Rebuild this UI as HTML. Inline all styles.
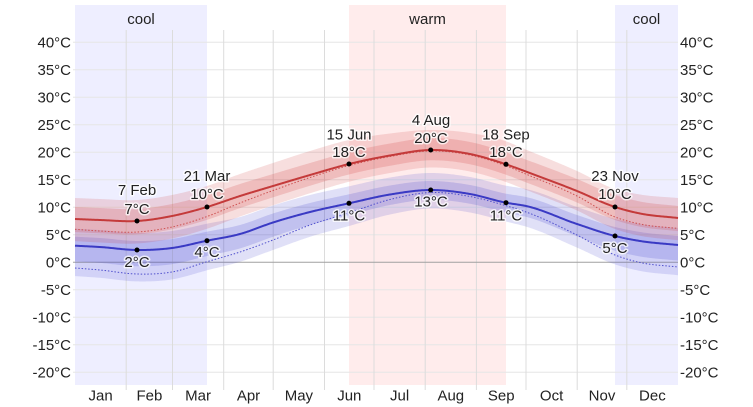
<!DOCTYPE html>
<html><head><meta charset="utf-8">
<style>
html,body{margin:0;padding:0;background:#fff;}
svg{display:block;font-family:"Liberation Sans",Arial,sans-serif;}
</style></head><body>
<svg id="c" xmlns="http://www.w3.org/2000/svg" width="753" height="407" viewBox="0 0 753 407">
<rect x="0" y="0" width="753" height="407" fill="#fff"/>
<rect x="75" y="5" width="132" height="380" fill="#eeeeff"/>
<rect x="349" y="5" width="157" height="380" fill="#ffecec"/>
<rect x="615" y="5" width="63" height="380" fill="#eeeeff"/>
<g stroke="#e6e6e6" stroke-width="1">
<line x1="73" x2="678" y1="42.3" y2="42.3"/>
<line x1="73" x2="678" y1="69.8" y2="69.8"/>
<line x1="73" x2="678" y1="97.3" y2="97.3"/>
<line x1="73" x2="678" y1="124.8" y2="124.8"/>
<line x1="73" x2="678" y1="152.3" y2="152.3"/>
<line x1="73" x2="678" y1="179.8" y2="179.8"/>
<line x1="73" x2="678" y1="207.3" y2="207.3"/>
<line x1="73" x2="678" y1="234.8" y2="234.8"/>
<line x1="73" x2="678" y1="289.8" y2="289.8"/>
<line x1="73" x2="678" y1="317.3" y2="317.3"/>
<line x1="73" x2="678" y1="344.8" y2="344.8"/>
<line x1="73" x2="678" y1="372.3" y2="372.3"/>
</g>
<g stroke="#dcdcdc" stroke-width="1">
<line x1="126.2" x2="126.2" y1="30" y2="390"/>
<line x1="172.5" x2="172.5" y1="30" y2="390"/>
<line x1="223.7" x2="223.7" y1="30" y2="390"/>
<line x1="273.2" x2="273.2" y1="30" y2="390"/>
<line x1="324.5" x2="324.5" y1="30" y2="390"/>
<line x1="374" x2="374" y1="30" y2="390"/>
<line x1="425.2" x2="425.2" y1="30" y2="390"/>
<line x1="476.4" x2="476.4" y1="30" y2="390"/>
<line x1="526" x2="526" y1="30" y2="390"/>
<line x1="577.2" x2="577.2" y1="30" y2="390"/>
<line x1="626.8" x2="626.8" y1="30" y2="390"/>
</g>
<line x1="73" x2="678" y1="262.3" y2="262.3" stroke="#a0a0a0" stroke-width="1"/>
<g id="series"></g>
<g fill="#000">
<circle cx="137" cy="221" r="2.5"/><circle cx="137" cy="250" r="2.5"/>
<circle cx="207" cy="207" r="2.5"/><circle cx="207" cy="240.7" r="2.5"/>
<circle cx="349" cy="164" r="2.5"/><circle cx="349" cy="203.3" r="2.5"/>
<circle cx="430.7" cy="150" r="2.5"/><circle cx="430.7" cy="190" r="2.5"/>
<circle cx="506" cy="164.3" r="2.5"/><circle cx="506" cy="202.7" r="2.5"/>
<circle cx="615" cy="207" r="2.5"/><circle cx="615" cy="236" r="2.5"/>
</g>
<g font-size="15" fill="#222" text-anchor="middle" stroke="#fff" stroke-width="3" stroke-opacity="0.75" paint-order="stroke" stroke-linejoin="round">
<text x="137" y="195">7 Feb</text><text x="137" y="214">7°C</text><text x="137" y="267">2°C</text>
<text x="207" y="181">21 Mar</text><text x="207" y="199">10°C</text><text x="207" y="257">4°C</text>
<text x="349" y="139.5">15 Jun</text><text x="349" y="157">18°C</text><text x="349" y="220.5">11°C</text>
<text x="431" y="125">4 Aug</text><text x="431" y="143">20°C</text><text x="431" y="206.5">13°C</text>
<text x="506" y="139.5">18 Sep</text><text x="506" y="157">18°C</text><text x="506" y="220.5">11°C</text>
<text x="615" y="181">23 Nov</text><text x="615" y="199">10°C</text><text x="615" y="253">5°C</text>
</g>
<g font-size="15" fill="#222" text-anchor="middle">
<text x="141" y="24">cool</text>
<text x="427.5" y="24">warm</text>
<text x="646.5" y="24">cool</text>
</g>
<g font-size="15" fill="#222" text-anchor="end">
<text x="71" y="47.6">40°C</text>
<text x="71" y="75.1">35°C</text>
<text x="71" y="102.6">30°C</text>
<text x="71" y="130.1">25°C</text>
<text x="71" y="157.6">20°C</text>
<text x="71" y="185.1">15°C</text>
<text x="71" y="212.6">10°C</text>
<text x="71" y="240.1">5°C</text>
<text x="71" y="267.6">0°C</text>
<text x="71" y="295.1">-5°C</text>
<text x="71" y="322.6">-10°C</text>
<text x="71" y="350.1">-15°C</text>
<text x="71" y="377.6">-20°C</text>
</g>
<g font-size="15" fill="#222" text-anchor="start">
<text x="680" y="47.6">40°C</text>
<text x="680" y="75.1">35°C</text>
<text x="680" y="102.6">30°C</text>
<text x="680" y="130.1">25°C</text>
<text x="680" y="157.6">20°C</text>
<text x="680" y="185.1">15°C</text>
<text x="680" y="212.6">10°C</text>
<text x="680" y="240.1">5°C</text>
<text x="680" y="267.6">0°C</text>
<text x="680" y="295.1">-5°C</text>
<text x="680" y="322.6">-10°C</text>
<text x="680" y="350.1">-15°C</text>
<text x="680" y="377.6">-20°C</text>
</g>
<g font-size="15" fill="#222" text-anchor="middle">
<text x="100.6" y="400.5">Jan</text>
<text x="149.4" y="400.5">Feb</text>
<text x="198.1" y="400.5">Mar</text>
<text x="248.5" y="400.5">Apr</text>
<text x="298.9" y="400.5">May</text>
<text x="349.3" y="400.5">Jun</text>
<text x="399.6" y="400.5">Jul</text>
<text x="450.8" y="400.5">Aug</text>
<text x="501.2" y="400.5">Sep</text>
<text x="551.6" y="400.5">Oct</text>
<text x="602" y="400.5">Nov</text>
<text x="652.4" y="400.5">Dec</text>
</g>
</svg>
<script>
(function(){
var X=[75,100,137,172,207,240,273,310,349,390,430.7,470,506,526,577,615,640,678];
var RED=[219,220,221,216,207,196,186,175,164,155.5,150,154,164.3,171.6,191,207,213.5,218];
var BLUE=[245.7,247,250,248,240.7,234,222.5,212,203.3,194.5,190,194,202.7,206,224,236,241,245];
var RDO=[10.3,11,11,11,9.5,7,4.5,2.5,1.5,1,1,1,1.5,2.5,5,10,10.5,10.5];
var BDO=[22.3,23,24,24,21,18,17.5,13,9.5,5,2.5,2.5,3,6,11,19,21.5,22];
var ROT=[21,21,21,21,21,22,23,24,24,22,20,21,23,22,20,18,19,20];
function mk(px,py){
  var n=px.length,m=[];
  for(var i=0;i<n;i++){
    if(i==0)m[i]=(py[1]-py[0])/(px[1]-px[0]);
    else if(i==n-1)m[i]=(py[n-1]-py[n-2])/(px[n-1]-px[n-2]);
    else{
      var d0=(py[i]-py[i-1])/(px[i]-px[i-1]),d1=(py[i+1]-py[i])/(px[i+1]-px[i]);
      m[i]=(d1*(px[i]-px[i-1])+d0*(px[i+1]-px[i]))/(px[i+1]-px[i-1]);
    }
  }
  return function(x){
    var i=0;while(i<n-2&&x>px[i+1])i++;
    var h=px[i+1]-px[i],t=(x-px[i])/h,t2=t*t,t3=t2*t;
    return (2*t3-3*t2+1)*py[i]+(t3-2*t2+t)*h*m[i]+(-2*t3+3*t2)*py[i+1]+(t3-t2)*h*m[i+1];
  };
}
var r=mk(X,RED),b=mk(X,BLUE),rd=mk(X,RDO),bd=mk(X,BDO),rot=mk(X,ROT);
var xs=[];for(var x=75;x<=678;x+=1)xs.push(x);
function line(fn){return 'M'+xs.map(function(x){return x+','+fn(x).toFixed(2);}).join('L');}
function area(t,bo){
  var a=xs.map(function(x){return x+','+t(x).toFixed(2);});
  var c=xs.slice().reverse().map(function(x){return x+','+bo(x).toFixed(2);});
  return 'M'+a.join('L')+'L'+c.join('L')+'Z';
}
var g=document.getElementById('series');
function add(d,attrs){
  var p=document.createElementNS('http://www.w3.org/2000/svg','path');
  p.setAttribute('d',d);
  for(var k in attrs)p.setAttribute(k,attrs[k]);
  g.appendChild(p);
}
add(area(function(x){return b(x)-17;},function(x){return b(x)+17+0.6*bd(x);}),{fill:'rgb(70,70,210)','fill-opacity':'0.17'});
add(area(function(x){return b(x)-9;},function(x){return b(x)+9+0.3*bd(x);}),{fill:'rgb(70,70,210)','fill-opacity':'0.2'});
add(area(function(x){return r(x)-rot(x);},function(x){return r(x)+17+0.5*rd(x);}),{fill:'rgb(210,60,60)','fill-opacity':'0.17'});
add(area(function(x){return r(x)-12;},function(x){return r(x)+10+0.3*rd(x);}),{fill:'rgb(210,60,60)','fill-opacity':'0.2'});
add(line(function(x){return r(x)+rd(x);}),{fill:'none',stroke:'rgb(205,80,80)','stroke-width':'1','stroke-dasharray':'1.5,1.8'});
add(line(function(x){return b(x)+bd(x);}),{fill:'none',stroke:'rgb(80,80,205)','stroke-width':'1','stroke-dasharray':'1.5,1.8'});
add(line(r),{fill:'none',stroke:'rgb(196,58,58)','stroke-width':'2','stroke-linejoin':'round'});
add(line(b),{fill:'none',stroke:'rgb(58,58,196)','stroke-width':'2','stroke-linejoin':'round'});
})();
</script>
</body></html>
